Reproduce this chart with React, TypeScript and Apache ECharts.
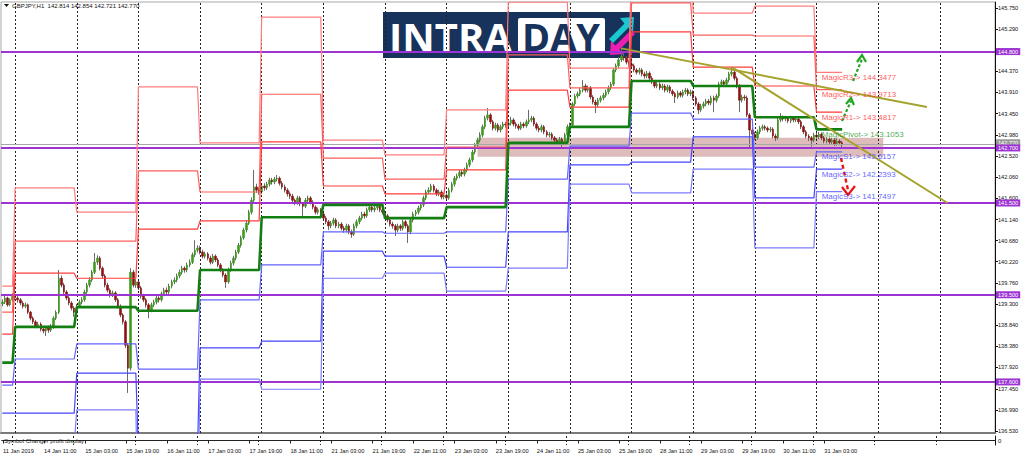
import React, { useEffect, useRef } from 'react';
import * as echarts from 'echarts';

// ---------- categories (hourly bars, broker time) ----------
const dayNames = ['11 Jan', '14 Jan', '15 Jan', '16 Jan', '17 Jan', '18 Jan', '21 Jan', '22 Jan', '23 Jan', '24 Jan', '25 Jan', '28 Jan', '29 Jan', '30 Jan', '31 Jan', '1 Feb', '4 Feb'];
const firstHour = 19;
const totalSlots = 387;
const barsShown = 328;

// ---------- OHLC candles [open, close, low, high] ----------
const c11Jan = [
  [139.30, 139.34, 139.25, 139.40], [139.34, 139.43, 139.30, 139.48], [139.43, 139.28, 139.24, 139.46], [139.28, 139.39, 139.25, 139.42], [139.39, 139.47, 139.35, 139.53],
];
const c14Jan = [
  [139.47, 139.43, 139.38, 139.55], [139.43, 139.39, 139.33, 139.48], [139.39, 139.32, 139.27, 139.43], [139.32, 139.25, 139.20, 139.36], [139.25, 139.28, 139.21, 139.33],
  [139.28, 139.12, 139.08, 139.31], [139.12, 138.99, 138.94, 139.15], [138.99, 138.91, 138.86, 139.03], [138.91, 138.82, 138.77, 138.95], [138.82, 138.86, 138.78, 138.91],
  [138.86, 138.75, 138.70, 138.90], [138.75, 138.71, 138.66, 138.80], [138.71, 138.78, 138.60, 138.82], [138.78, 138.73, 138.67, 138.83], [138.73, 138.80, 138.69, 138.86],
  [138.80, 138.99, 138.76, 139.03], [138.99, 139.12, 138.95, 139.16], [139.12, 139.86, 139.08, 140.04], [139.86, 139.71, 139.66, 139.92], [139.71, 139.56, 139.51, 139.76],
  [139.56, 139.43, 139.38, 139.60], [139.43, 139.32, 139.27, 139.47], [139.32, 139.21, 139.16, 139.36], [139.21, 139.12, 139.02, 139.25],
];
const c15Jan = [
  [139.12, 139.25, 139.08, 139.30], [139.25, 139.34, 139.21, 139.39], [139.34, 139.39, 139.29, 139.45], [139.39, 139.56, 139.35, 139.61], [139.56, 139.71, 139.52, 139.76],
  [139.71, 139.82, 139.66, 139.88], [139.82, 139.99, 139.78, 140.04], [139.99, 140.21, 139.95, 140.41], [140.21, 140.30, 140.15, 140.36], [140.30, 140.08, 140.03, 140.34],
  [140.08, 139.91, 139.86, 140.12], [139.91, 139.71, 139.66, 139.95], [139.71, 139.60, 139.55, 139.76], [139.60, 139.49, 139.44, 139.64], [139.49, 139.54, 139.45, 139.59],
  [139.54, 139.39, 139.34, 139.58], [139.39, 139.25, 139.20, 139.43], [139.25, 139.06, 139.01, 139.29], [139.06, 138.91, 138.85, 139.10], [138.91, 138.40, 138.34, 138.95],
  [138.40, 137.90, 137.36, 138.45], [137.90, 139.99, 137.85, 140.08], [139.99, 139.71, 139.66, 140.04], [139.71, 139.78, 139.65, 139.84],
];
const c16Jan = [
  [139.78, 139.65, 139.60, 139.82], [139.65, 139.47, 139.42, 139.69], [139.47, 139.39, 139.34, 139.52], [139.39, 139.28, 139.22, 139.43], [139.28, 139.17, 138.99, 139.32],
  [139.17, 139.28, 139.12, 139.33], [139.28, 139.34, 139.23, 139.39], [139.34, 139.43, 139.29, 139.48], [139.43, 139.39, 139.33, 139.47], [139.39, 139.52, 139.35, 139.57],
  [139.52, 139.60, 139.47, 139.65], [139.60, 139.56, 139.50, 139.66], [139.56, 139.69, 139.51, 139.74], [139.69, 139.78, 139.64, 139.83], [139.78, 139.82, 139.73, 139.88],
  [139.82, 139.91, 139.77, 139.96], [139.91, 139.99, 139.86, 140.05], [139.99, 140.08, 139.94, 140.13], [140.08, 140.04, 139.98, 140.12], [140.04, 140.15, 139.99, 140.20],
  [140.15, 140.21, 140.10, 140.27], [140.21, 140.37, 140.17, 140.42], [140.37, 140.47, 140.32, 140.69], [140.47, 140.52, 140.42, 140.58],
];
const c17Jan = [
  [140.52, 140.43, 140.38, 140.57], [140.43, 140.34, 140.29, 140.48], [140.34, 140.39, 140.29, 140.44], [140.39, 140.30, 140.25, 140.43], [140.30, 140.21, 140.16, 140.35],
  [140.21, 140.34, 140.17, 140.39], [140.34, 140.26, 140.21, 140.38], [140.26, 140.15, 140.10, 140.30], [140.15, 140.04, 139.99, 140.19], [140.04, 139.93, 139.88, 140.08],
  [139.93, 139.78, 139.65, 139.97], [139.78, 140.04, 139.74, 140.09], [140.04, 140.19, 140.00, 140.24], [140.19, 140.30, 140.14, 140.35], [140.30, 140.43, 140.25, 140.48],
  [140.43, 140.58, 140.39, 140.63], [140.58, 140.74, 140.53, 140.79], [140.74, 140.91, 140.70, 140.96], [140.91, 141.06, 140.86, 141.12], [141.06, 141.30, 141.02, 141.35],
  [141.30, 141.56, 141.25, 141.62], [141.56, 141.85, 141.52, 142.22], [141.85, 141.78, 141.72, 141.92], [141.78, 141.74, 141.68, 141.84],
];
const c18Jan = [
  [141.74, 141.87, 141.70, 141.92], [141.87, 141.83, 141.77, 141.93], [141.83, 141.91, 141.78, 141.96], [141.91, 142.00, 141.86, 142.05], [142.00, 141.96, 141.90, 142.05],
  [141.96, 142.02, 141.91, 142.07], [142.02, 142.04, 141.97, 142.11], [142.04, 141.93, 141.88, 142.08], [141.93, 141.85, 141.80, 141.98], [141.85, 141.78, 141.73, 141.90],
  [141.78, 141.70, 141.64, 141.82], [141.70, 141.65, 141.59, 141.75], [141.65, 141.56, 141.51, 141.70], [141.56, 141.50, 141.45, 141.60], [141.50, 141.61, 141.46, 141.66],
  [141.61, 141.48, 141.43, 141.65], [141.48, 141.43, 141.19, 141.52], [141.43, 141.56, 141.39, 141.61], [141.56, 141.61, 141.51, 141.66], [141.61, 141.52, 141.47, 141.65],
  [141.52, 141.41, 141.36, 141.56], [141.41, 141.30, 141.25, 141.45], [141.30, 141.35, 141.25, 141.40], [141.35, 141.26, 141.21, 141.39],
];
const c21Jan = [
  [141.26, 141.17, 141.12, 141.30], [141.17, 141.09, 141.04, 141.22], [141.09, 141.00, 140.91, 141.13], [141.00, 141.06, 140.95, 141.11], [141.06, 141.13, 141.01, 141.18],
  [141.13, 141.00, 140.95, 141.17], [141.00, 141.04, 140.95, 141.09], [141.04, 140.95, 140.90, 141.08], [140.95, 140.91, 140.85, 141.00], [140.91, 141.00, 140.86, 141.05],
  [141.00, 140.87, 140.82, 141.04], [140.87, 140.82, 140.74, 140.92], [140.82, 141.00, 140.78, 141.05], [141.00, 141.09, 140.95, 141.14], [141.09, 141.17, 141.04, 141.22],
  [141.17, 141.26, 141.12, 141.31], [141.26, 141.22, 141.16, 141.31], [141.22, 141.35, 141.18, 141.40], [141.35, 141.41, 141.30, 141.47], [141.41, 141.35, 141.30, 141.46],
  [141.35, 141.39, 141.30, 141.44], [141.39, 141.43, 141.34, 141.48], [141.43, 141.35, 141.30, 141.47], [141.35, 141.30, 141.25, 141.40],
];
const c22Jan = [
  [141.30, 141.22, 141.17, 141.34], [141.22, 141.13, 141.08, 141.26], [141.13, 141.04, 140.99, 141.17], [141.04, 141.00, 140.94, 141.09], [141.00, 140.91, 140.78, 141.04],
  [140.91, 141.00, 140.86, 141.05], [141.00, 140.95, 140.89, 141.04], [140.95, 141.09, 140.90, 141.14], [141.09, 141.00, 140.95, 141.13], [141.00, 140.87, 140.63, 141.04],
  [140.87, 141.13, 140.82, 141.18], [141.13, 141.26, 141.08, 141.31], [141.26, 141.30, 141.21, 141.35], [141.30, 141.39, 141.25, 141.44], [141.39, 141.46, 141.34, 141.51],
  [141.46, 141.61, 141.41, 141.66], [141.61, 141.74, 141.56, 141.79], [141.74, 141.78, 141.69, 141.84], [141.78, 141.87, 141.73, 141.92], [141.87, 141.78, 141.73, 141.91],
  [141.78, 141.70, 141.65, 141.82], [141.70, 141.74, 141.65, 141.79], [141.74, 141.63, 141.58, 141.78], [141.63, 141.67, 141.58, 141.72],
];
const c23Jan = [
  [141.67, 141.61, 141.56, 141.71], [141.61, 141.78, 141.57, 141.83], [141.78, 141.91, 141.73, 141.96], [141.91, 142.04, 141.86, 142.09], [142.04, 142.09, 141.99, 142.14],
  [142.09, 142.17, 142.04, 142.22], [142.17, 142.13, 142.07, 142.22], [142.13, 142.22, 142.08, 142.27], [142.22, 142.33, 142.17, 142.38], [142.33, 142.44, 142.28, 142.49],
  [142.44, 142.61, 142.39, 142.66], [142.61, 142.76, 142.56, 142.81], [142.76, 142.87, 142.71, 142.92], [142.87, 142.98, 142.82, 143.04], [142.98, 143.16, 142.93, 143.21],
  [143.16, 143.35, 143.11, 143.40], [143.35, 143.42, 143.30, 143.57], [143.42, 143.27, 143.22, 143.46], [143.27, 143.13, 143.08, 143.31], [143.13, 143.20, 143.08, 143.25],
  [143.20, 143.09, 143.04, 143.24], [143.09, 143.16, 143.04, 143.21], [143.16, 143.22, 143.11, 143.27], [143.22, 143.20, 143.14, 143.27],
];
const c24Jan = [
  [143.20, 143.24, 143.15, 143.29], [143.24, 143.31, 143.19, 143.38], [143.31, 143.22, 143.17, 143.35], [143.22, 143.18, 143.12, 143.27], [143.18, 143.13, 143.08, 143.23],
  [143.13, 143.22, 143.09, 143.27], [143.22, 143.18, 143.13, 143.26], [143.18, 143.27, 143.14, 143.32], [143.27, 143.31, 143.22, 143.53], [143.31, 143.35, 143.26, 143.40],
  [143.35, 143.22, 143.17, 143.39], [143.22, 143.13, 143.08, 143.26], [143.13, 143.09, 143.04, 143.18], [143.09, 143.16, 143.04, 143.21], [143.16, 143.05, 143.00, 143.20],
  [143.05, 142.98, 142.93, 143.09], [142.98, 143.00, 142.93, 143.05], [143.00, 142.92, 142.87, 143.04], [142.92, 142.87, 142.82, 142.96], [142.87, 142.83, 142.78, 142.92],
  [142.83, 142.89, 142.78, 142.94], [142.89, 142.81, 142.72, 142.93], [142.81, 142.98, 142.77, 143.03], [142.98, 143.16, 142.94, 143.21],
];
const c25Jan = [
  [143.16, 143.20, 143.11, 143.25], [143.20, 143.66, 143.16, 143.70], [143.66, 143.83, 143.61, 143.88], [143.83, 143.88, 143.78, 143.93], [143.88, 143.96, 143.83, 144.01],
  [143.96, 144.05, 143.91, 144.18], [144.05, 143.96, 143.91, 144.10], [143.96, 144.01, 143.91, 144.06], [144.01, 143.81, 143.76, 144.05], [143.81, 143.70, 143.65, 143.85],
  [143.70, 143.64, 143.46, 143.75], [143.64, 143.74, 143.59, 143.79], [143.74, 143.79, 143.69, 143.84], [143.79, 143.85, 143.74, 143.90], [143.85, 143.92, 143.80, 143.97],
  [143.92, 144.01, 143.87, 144.06], [144.01, 144.09, 143.96, 144.14], [144.09, 144.40, 144.05, 144.45], [144.40, 144.49, 144.35, 144.54], [144.49, 144.62, 144.44, 144.68],
  [144.62, 144.70, 144.57, 144.88], [144.70, 144.66, 144.60, 144.76], [144.66, 144.57, 144.52, 144.70], [144.57, 144.53, 144.47, 144.62],
];
const c28Jan = [
  [144.53, 144.49, 144.43, 144.77], [144.49, 144.40, 144.35, 144.54], [144.40, 144.35, 144.30, 144.44], [144.35, 144.40, 144.30, 144.45], [144.40, 144.31, 144.26, 144.44],
  [144.31, 144.27, 144.21, 144.36], [144.27, 144.33, 144.22, 144.38], [144.33, 144.22, 144.17, 144.37], [144.22, 144.14, 144.09, 144.27], [144.14, 144.05, 144.00, 144.18],
  [144.05, 144.09, 144.00, 144.14], [144.09, 144.01, 143.96, 144.13], [144.01, 144.05, 143.96, 144.10], [144.05, 143.96, 143.91, 144.09], [143.96, 144.03, 143.91, 144.08],
  [144.03, 143.94, 143.89, 144.07], [143.94, 143.88, 143.83, 143.98], [143.88, 143.81, 143.68, 143.92], [143.81, 143.90, 143.77, 143.95], [143.90, 143.85, 143.80, 143.94],
  [143.85, 143.92, 143.80, 143.97], [143.92, 143.96, 143.87, 144.01], [143.96, 143.88, 143.83, 144.00], [143.88, 143.92, 143.83, 143.97],
];
const c29Jan = [
  [143.92, 143.79, 143.74, 143.96], [143.79, 143.66, 143.61, 143.83], [143.66, 143.53, 143.44, 143.70], [143.53, 143.61, 143.48, 143.66], [143.61, 143.66, 143.56, 143.71],
  [143.66, 143.72, 143.61, 143.77], [143.72, 143.68, 143.63, 143.77], [143.68, 143.79, 143.63, 143.84], [143.79, 143.74, 143.48, 143.84], [143.74, 143.83, 143.69, 143.88],
  [143.83, 144.09, 143.79, 144.14], [144.09, 144.14, 144.04, 144.19], [144.14, 144.09, 144.04, 144.18], [144.09, 144.18, 144.04, 144.23], [144.18, 144.31, 144.13, 144.36],
  [144.31, 144.35, 144.26, 144.46], [144.35, 144.22, 144.17, 144.40], [144.22, 144.05, 144.00, 144.26], [144.05, 143.74, 143.48, 144.09], [143.74, 143.81, 143.69, 143.86],
  [143.81, 143.79, 143.73, 143.86], [143.79, 143.42, 143.37, 143.84], [143.42, 143.09, 142.70, 143.46], [143.09, 143.00, 142.94, 143.14],
];
const c30Jan = [
  [143.00, 142.92, 142.87, 143.05], [142.92, 143.05, 142.88, 143.10], [143.05, 143.13, 143.00, 143.18], [143.13, 143.16, 143.08, 143.21], [143.16, 143.13, 143.08, 143.20],
  [143.13, 143.09, 143.04, 143.17], [143.09, 143.11, 143.04, 143.16], [143.11, 142.96, 142.91, 143.15], [142.96, 142.92, 142.85, 143.01], [142.92, 143.31, 142.88, 143.36],
  [143.31, 143.37, 143.26, 143.46], [143.37, 143.33, 143.28, 143.41], [143.33, 143.35, 143.28, 143.40], [143.35, 143.29, 143.24, 143.39], [143.29, 143.35, 143.24, 143.40],
  [143.35, 143.31, 143.26, 143.39], [143.31, 143.33, 143.26, 143.38], [143.33, 143.27, 143.22, 143.37], [143.27, 143.16, 143.11, 143.31], [143.16, 143.05, 143.00, 143.20],
  [143.05, 142.96, 142.91, 143.09], [142.96, 142.92, 142.85, 143.00], [142.92, 142.87, 142.73, 142.96], [142.87, 142.98, 142.82, 143.03],
];
const c31Jan = [
  [142.98, 142.94, 142.88, 143.03], [142.94, 143.00, 142.89, 143.05], [143.00, 142.92, 142.87, 143.04], [142.92, 142.85, 142.80, 142.96], [142.85, 142.89, 142.80, 142.94],
  [142.89, 142.83, 142.78, 142.93], [142.83, 142.87, 142.78, 142.92], [142.87, 142.79, 142.74, 142.91], [142.79, 142.85, 142.75, 142.90], [142.85, 142.81, 142.76, 142.89],
  [142.814, 142.770, 142.721, 142.854],
];

// ---------- daily pivot levels (one value per trading day, 11 Jan .. 31 Jan) ----------
const levelR3 = [139.69, 141.83, 141.30, 144.03, 142.81, 145.55, 142.87, 142.55, 143.53, 145.88, 144.44, 146.80, 145.64, 145.79, 144.3477];
const levelR2 = [139.12, 140.67, 140.67, 142.20, 141.74, 143.87, 142.48, 142.02, 142.72, 144.73, 144.01, 145.86, 145.16, 145.14, 143.9713];
const levelR1 = [138.64, 139.97, 139.86, 140.93, 141.11, 142.83, 141.87, 141.70, 142.22, 143.96, 143.59, 145.23, 144.46, 144.05, 143.4817];
const levelP = [138.02, 138.80, 139.23, 139.15, 140.04, 141.19, 141.46, 141.17, 141.41, 142.81, 143.16, 144.16, 144.05, 143.37, 143.1053];
const levelS1 = [137.53, 138.10, 138.43, 137.88, 139.39, 140.15, 140.87, 140.84, 140.87, 142.02, 142.74, 143.46, 143.33, 142.28, 142.6157];
const levelS2 = [136.92, 136.92, 137.79, 136.09, 138.34, 138.49, 140.45, 140.34, 140.10, 140.87, 142.33, 142.39, 142.94, 141.61, 142.2393];
const levelS3 = [136.42, 136.22, 136.99, 134.31, 137.66, 137.44, 139.86, 139.97, 139.58, 140.08, 141.91, 141.72, 142.24, 140.52, 141.7497];

// ---------- horizontal levels, trend lines, zone ----------
const purpleLevels = [144.8, 142.7, 141.5, 139.5, 137.6];
const bidPrice = 142.77;
const trendLine1 = [[241, 144.87], [360, 143.59]];
const trendLine2 = [[284, 144.46], [368, 141.50]];
const zone = { fromBar: 185, toBar: 343, top: 142.92, bottom: 142.51 };
const priceTicks = [136.53, 136.99, 137.45, 137.92, 138.38, 138.84, 139.30, 139.76, 140.22, 140.68, 141.14, 141.60, 142.06, 142.52, 142.98, 143.45, 143.91, 144.37, 144.83, 145.29, 145.75];
const magicLabels = [
  { name: 'MagicR3', value: 144.3477, color: '#ff3030' },
  { name: 'MagicR2', value: 143.9713, color: '#ff3030' },
  { name: 'MagicR1', value: 143.4817, color: '#ff3030' },
  { name: 'MagicPivot', value: 143.1053, color: '#22962a' },
  { name: 'MagicS1', value: 142.6157, color: '#3a3aff' },
  { name: 'MagicS2', value: 142.2393, color: '#3a3aff' },
  { name: 'MagicS3', value: 141.7497, color: '#3a3aff' },
];
const magicLabelBar = 319;

const FONT = '"Liberation Sans", Arial, sans-serif';

function buildCategories() {
  const cats: string[] = [];
  const dayStarts: number[] = [];
  for (let d = 0; d < dayNames.length && cats.length < totalSlots; d++) {
    const h0 = d === 0 ? firstHour : 0;
    for (let h = h0; h < 24 && cats.length < totalSlots; h++) {
      if (h === 0) dayStarts.push(cats.length);
      cats.push(`${dayNames[d]} ${String(h).padStart(2, '0')}:00`);
    }
  }
  return { cats, dayStarts };
}

export default function App() {
  const ref = useRef<HTMLDivElement>(null);
  useEffect(() => {
    if (!ref.current) return;
    const chart = echarts.init(ref.current, undefined, { renderer: 'svg' });
    const { cats, dayStarts } = buildCategories();
    const candles = [
      ...c11Jan, ...c14Jan, ...c15Jan, ...c16Jan, ...c17Jan, ...c18Jan, ...c21Jan, ...c22Jan,
      ...c23Jan, ...c24Jan, ...c25Jan, ...c28Jan, ...c29Jan, ...c30Jan, ...c31Jan,
    ];
    const bodies = candles.map(([o, c]) => [o, c, Math.min(o, c), Math.max(o, c)]);
    const tradingStarts = [0, ...dayStarts.filter((s) => s < barsShown)];
    const dayOf = (i: number) => {
      let d = 0;
      for (let k = 0; k < tradingStarts.length; k++) if (i >= tradingStarts[k]) d = k;
      return d;
    };
    const levelSeries = (lv: number[]) => {
      const out: (number | null)[] = [];
      for (let i = 0; i < barsShown; i++) out.push(lv[dayOf(i)]);
      return out;
    };
    const pivotLine = (lv: number[], color: string, width: number, z: number) => ({
      type: 'line', data: levelSeries(lv), symbol: 'none', silent: true, z,
      lineStyle: { color, width }, xAxisIndex: 0, yAxisIndex: 0,
    });
    const labelIdx = (i: number) => i % 16 === 0 && i < barsShown;

    const option: any = {
      animation: false,
      backgroundColor: '#ffffff',
      textStyle: { fontFamily: FONT },
      grid: [
        { left: 1, right: 29, top: 2, height: 431, show: true, borderColor: '#a8a8a8', borderWidth: 1, backgroundColor: '#ffffff' },
        { left: 1, right: 29, top: 436, height: 9, show: false },
      ],
      xAxis: [
        {
          type: 'category', data: cats, gridIndex: 0, boundaryGap: true,
          axisLine: { show: true, lineStyle: { color: '#7a7a7a', width: 2 } },
          axisTick: { show: false }, axisLabel: { show: false }, splitLine: { show: false },
        },
        {
          type: 'category', data: cats, gridIndex: 1, boundaryGap: true,
          axisLine: { show: true, lineStyle: { color: '#222', width: 1 } },
          axisTick: { show: true, alignWithLabel: true, interval: (i: number) => labelIdx(i), length: 3, lineStyle: { color: '#222' } },
          axisLabel: {
            show: true, interval: (i: number) => labelIdx(i), fontSize: 5.7, color: '#111', margin: 3, align: 'left',
            formatter: (v: string, i: number) => (i === 0 ? '11 Jan 2019' : v),
          },
          splitLine: {
            show: true, interval: (i: number) => dayStarts.includes(i + 1),
            lineStyle: { color: '#222', type: [2, 2], width: 1 },
          },
        },
      ],
      yAxis: [
        {
          type: 'value', gridIndex: 0, position: 'right', min: 136.4868, max: 145.8808, scale: true,
          axisLine: { show: true, lineStyle: { color: '#111', width: 1 } },
          axisTick: { show: true, length: 3, customValues: priceTicks, lineStyle: { color: '#111' } },
          axisLabel: { show: true, customValues: priceTicks, fontSize: 5.6, color: '#111', margin: 3, formatter: (v: number) => v.toFixed(3) },
          splitLine: { show: false },
        },
        {
          type: 'value', gridIndex: 1, position: 'right', min: -1, max: 1,
          axisLine: { show: true, lineStyle: { color: '#111', width: 1 } },
          axisTick: { show: false },
          axisLabel: { show: true, customValues: [0], fontSize: 6, color: '#111', margin: 3, formatter: () => '0' },
          splitLine: { show: false },
        },
      ],
      series: [
        {
          type: 'line', data: [[zone.fromBar, zone.top]], symbol: 'none', silent: true, z: 1,
          markArea: {
            silent: true,
            itemStyle: { color: 'rgba(176, 96, 96, 0.42)' },
            data: [[{ xAxis: zone.fromBar, yAxis: zone.top }, { xAxis: zone.toBar, yAxis: zone.bottom }]],
          },
        },
        {
          type: 'candlestick', name: 'wicks', data: candles, barWidth: 1, silent: true, z: 3,
          itemStyle: { color: 'rgba(0,0,0,0)', color0: 'rgba(0,0,0,0)', borderColor: '#6a6a6a', borderColor0: '#6a6a6a', borderWidth: 1 },
          markLine: {
            silent: true, symbol: ['none', 'none'], label: { show: false },
            lineStyle: { color: '#222', type: [2, 2], width: 1 },
            data: dayStarts.map((s) => ({ xAxis: s })),
          },
        },
        {
          type: 'candlestick', name: 'bodies', data: bodies, barWidth: 2, silent: true, z: 4,
          itemStyle: { color: '#3f9a20', color0: '#8e1212', borderColor: '#3f9a20', borderColor0: '#8e1212', borderWidth: 0.6 },
        },
        pivotLine(levelR3, '#ff7c7c', 1.2, 5),
        pivotLine(levelR2, '#ff5c5c', 1.2, 5),
        pivotLine(levelR1, '#ff3c3c', 1.2, 5),
        pivotLine(levelS1, '#6464ff', 1.2, 5),
        pivotLine(levelS2, '#4646ff', 1.2, 5),
        pivotLine(levelS3, '#7c7cff', 1.2, 5),
        pivotLine(levelP, '#137f13', 2.6, 6),
        {
          type: 'line', data: [[0, bidPrice]], symbol: 'none', silent: true, z: 6,
          markLine: {
            silent: true, symbol: ['none', 'none'],
            lineStyle: { color: '#a8a8a8', width: 1, type: 'solid' },
            label: { show: true, position: 'end', distance: 1, offset: [0, -2], formatter: bidPrice.toFixed(3), color: '#ffffff', backgroundColor: '#9a9a9a', fontSize: 5.6, padding: [1, 2, 0, 2] },
            data: [{ yAxis: bidPrice }],
          },
        },
        {
          type: 'line', data: [[0, purpleLevels[0]]], symbol: 'none', silent: true, z: 7,
          markLine: {
            silent: true, symbol: ['none', 'none'],
            lineStyle: { color: '#9c33d2', width: 2, type: 'solid' },
            label: { show: true, position: 'end', distance: 1, formatter: (p: any) => Number(p.value).toFixed(3), color: '#ffffff', backgroundColor: '#9c33d2', fontSize: 5.6, padding: [1, 2, 0, 2] },
            data: purpleLevels.map((v) => ({ yAxis: v })),
          },
        },
        { type: 'line', data: trendLine1, symbol: 'none', silent: true, z: 8, lineStyle: { color: '#a6a22e', width: 2 } },
        { type: 'line', data: trendLine2, symbol: 'none', silent: true, z: 8, lineStyle: { color: '#a6a22e', width: 2 } },
        {
          type: 'scatter', symbolSize: 0, silent: true, z: 9,
          label: { show: true, position: 'right', distance: 0, offset: [0, 5], fontSize: 8, fontFamily: FONT },
          data: magicLabels.map((m) => ({
            value: [magicLabelBar, m.value],
            label: { formatter: `${m.name}-> ${m.value.toFixed(4)}`, color: m.color },
          })),
        },
      ],
      graphic: [
        { type: 'polygon', shape: { points: [[4, 4], [9, 4], [6.5, 7]] }, style: { fill: '#111' }, silent: true },
        { type: 'text', x: 12, y: 5.5, style: { text: 'GBPJPY,H1  142.814 142.854 142.721 142.770', font: `6px ${FONT}`, fill: '#111', verticalAlign: 'middle' }, silent: true },
        { type: 'text', x: 4, y: 440.5, style: { text: 'Symbol Changer profit display', font: `6px ${FONT}`, fill: '#222', verticalAlign: 'middle' }, silent: true },
        {
          type: 'group', x: 383, y: 12, silent: true,
          children: [
            { type: 'rect', shape: { x: 0, y: 0, width: 257, height: 46 }, style: { fill: '#17335b' } },
            { type: 'text', x: 6, y: 24, style: { text: 'INTRA', font: `bold 40px "Open Sans", sans-serif`, fill: '#ffffff', verticalAlign: 'middle' } },
            { type: 'rect', shape: { x: 135, y: 6, width: 87, height: 35, r: 2 }, style: { fill: '#ffffff' } },
            { type: 'text', x: 139, y: 24, style: { text: 'DAY', font: `bold 38px "Open Sans", sans-serif`, fill: '#17335b', verticalAlign: 'middle' } },
            { type: 'polygon', shape: { points: [[251, 5], [250, 20], [245.5, 15.5], [230, 31], [226, 27], [241.5, 11.5], [237, 6]] }, style: { fill: '#1bc8d2' } },
            { type: 'polygon', shape: { points: [[227, 43], [228, 29], [232.5, 33.5], [248, 18], [252, 22], [236.5, 37.5], [241, 42]] }, style: { fill: '#ee1db4' } },
          ],
        },
        { type: 'polyline', shape: { points: [[842, 121], [851, 101]] }, style: { stroke: '#22a522', lineWidth: 2.2, lineDash: [3, 2], fill: 'none' }, silent: true },
        { type: 'polyline', shape: { points: [[846, 104], [851, 98], [854, 105]] }, style: { stroke: '#22a522', lineWidth: 2.2, fill: 'none' }, silent: true },
        { type: 'polyline', shape: { points: [[853, 81], [862, 59]] }, style: { stroke: '#22a522', lineWidth: 2.2, lineDash: [3, 2], fill: 'none' }, silent: true },
        { type: 'polyline', shape: { points: [[857, 62], [862, 55], [866, 62]] }, style: { stroke: '#22a522', lineWidth: 2.2, fill: 'none' }, silent: true },
        { type: 'polyline', shape: { points: [[841, 158], [848, 190]] }, style: { stroke: '#ee1111', lineWidth: 2.4, lineDash: [4, 3], fill: 'none' }, silent: true },
        { type: 'polyline', shape: { points: [[842, 187], [848, 195], [855, 186]] }, style: { stroke: '#ee1111', lineWidth: 2.2, fill: 'none' }, silent: true },
      ],
    };
    chart.setOption(option);
    return () => chart.dispose();
  }, []);
  return <div ref={ref} style={{ position: 'absolute', left: 0, top: 0, width: 1024, height: 459 }} />;
}
